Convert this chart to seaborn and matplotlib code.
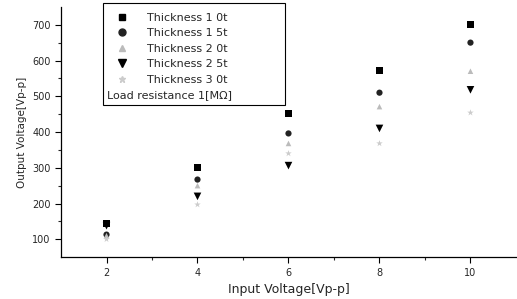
import numpy as np
import matplotlib.pyplot as plt
import matplotlib.lines as mlines
from matplotlib.patches import Rectangle
import pandas as pd
import seaborn as sns

# data
input_v = [2, 4, 6, 8, 10]
labels = ['Thickness 1 0t', 'Thickness 1 5t', 'Thickness 2 0t', 'Thickness 2 5t', 'Thickness 3 0t']
t10 = [145, 300, 451, 571, 700]
t15 = [113, 267, 396, 510, 650]
t20 = [110, 250, 368, 471, 570]
t25 = [138, 220, 306, 410, 518]
t30 = [100, 197, 340, 368, 454]

rows = []
for lab, vals in zip(labels, [t10, t15, t20, t25, t30]):
    for x, y in zip(input_v, vals):
        rows.append({'input': x, 'output': y, 'series': lab})
df = pd.DataFrame(rows)

sns.set_style('ticks')
plt.rcParams['font.family'] = ['DejaVu Sans']

fig = plt.figure(figsize=(5.17, 2.99), dpi=100)
ax = fig.add_axes([0.118, 0.14, 0.88, 0.837])

markers = {labels[0]: 's', labels[1]: 'o', labels[2]: '^', labels[3]: 'v', labels[4]: '*'}
palette = {labels[0]: 'black', labels[1]: '#222222', labels[2]: '#bbbbbb', labels[3]: 'black', labels[4]: '#cccccc'}
sizes = {labels[0]: 24, labels[1]: 20, labels[2]: 16, labels[3]: 30, labels[4]: 24}

for lab in labels:
    sub = df[df['series'] == lab]
    sns.scatterplot(data=sub, x='input', y='output', marker=markers[lab], color=palette[lab],
                    s=sizes[lab], edgecolor='none', ax=ax, legend=False)

ax.set_xlim(1, 11)
ax.set_ylim(50, 750)
ax.set_xticks([2, 4, 6, 8, 10])
ax.set_xticks([3, 5, 7, 9], minor=True)
ax.set_yticks([100, 200, 300, 400, 500, 600, 700])
ax.set_yticks([150, 250, 350, 450, 550, 650], minor=True)
ax.tick_params(labelsize=7, length=4, width=0.8, color='black')
ax.tick_params(which='minor', length=2, width=0.8)
sns.despine(ax=ax, top=True, right=True)
for s in ['left', 'bottom']:
    ax.spines[s].set_color('black')
    ax.spines[s].set_linewidth(0.9)

ax.set_xlabel('Input Voltage[Vp-p]', fontsize=9)
ax.set_ylabel('Output Voltage[Vp-p]', fontsize=7.5)

# legend box
handles = [mlines.Line2D([], [], linestyle='none', marker=markers[l], color=palette[l],
                         markersize=5 if markers[l] != 'v' else 6, label=l) for l in labels]
leg = ax.legend(handles=handles, loc='upper left', bbox_to_anchor=(0.11, 0.995), fontsize=8,
                frameon=False, handletextpad=1.6, labelspacing=0.5, borderaxespad=0,
                handlelength=1.2)
ax.text(0.1, 0.648, 'Load resistance 1[MΩ]', transform=ax.transAxes, fontsize=8,
        va='center', ha='left')
ax.add_patch(Rectangle((0.092, 0.608), 0.40, 0.408, transform=ax.transAxes, fill=False,
                       edgecolor='black', linewidth=0.8, clip_on=False))

fig.savefig('out.png', dpi=100)
